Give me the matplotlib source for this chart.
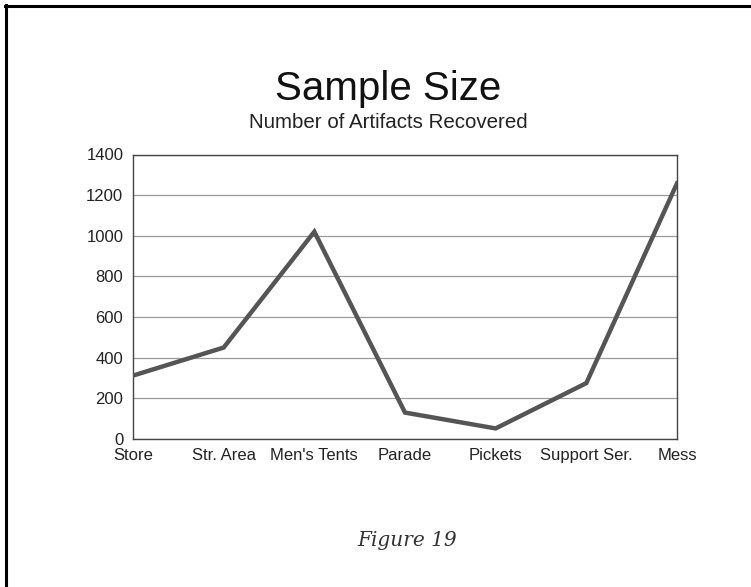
import matplotlib
matplotlib.use("Agg")
import matplotlib.pyplot as plt
from matplotlib.lines import Line2D

# Artifact counts by excavation area
areas = ["Store", "Str. Area", "Men's Tents", "Parade", "Pickets", "Support Ser.", "Mess"]
artifacts = [312, 450, 1020, 130, 52, 275, 1258]
y_ticks = [0, 200, 400, 600, 800, 1000, 1200, 1400]

plt.rcParams["font.family"] = ["Liberation Sans", "DejaVu Sans"]

W, H = 751, 587
fig = plt.figure(figsize=(W / 100, H / 100), dpi=100)
fig.patch.set_facecolor("white")

ax = fig.add_axes([133 / W, 1 - 439 / H, (677 - 133) / W, (439 - 154.5) / H])
x = list(range(len(areas)))
ax.plot(x, artifacts, color="#555555", lw=3.2, solid_joinstyle="miter", zorder=3)

ax.set_xlim(0, len(areas) - 1)
ax.set_ylim(0, 1400)
ax.set_yticks(y_ticks)
ax.set_xticks(x)
ax.set_xticklabels(areas)
ax.tick_params(axis="both", length=0, labelsize=12, colors="#222222")
ax.tick_params(axis="x", pad=6.5)
ax.tick_params(axis="y", pad=7)
ax.yaxis.grid(True, color="#9a9a9a", lw=0.9)
ax.set_axisbelow(True)
for s in ax.spines.values():
    s.set_color("#444444")
    s.set_linewidth(1.0)

# Titles
fig.text(388 / W, 1 - 100 / H, "Sample Size", ha="center", va="baseline",
         fontsize=29, color="#111111")
fig.text(388 / W, 1 - 128 / H, "Number of Artifacts Recovered", ha="center",
         va="baseline", fontsize=14.8, color="#222222")

# Figure caption
fig.text(407 / W, 1 - 546 / H, "Figure 19", ha="center", va="baseline",
         fontsize=14.5, style="italic", family=["DejaVu Serif"], color="#333333")

# Page frame on top and left edges
fig.add_artist(Line2D([5 / W, 1], [1 - 6 / H, 1 - 6 / H], color="black", lw=2.2,
                      transform=fig.transFigure))
fig.add_artist(Line2D([6 / W, 6 / W], [0, 1 - 5 / H], color="black", lw=2.2,
                      transform=fig.transFigure))

fig.savefig("out.png", dpi=100, facecolor="white")
